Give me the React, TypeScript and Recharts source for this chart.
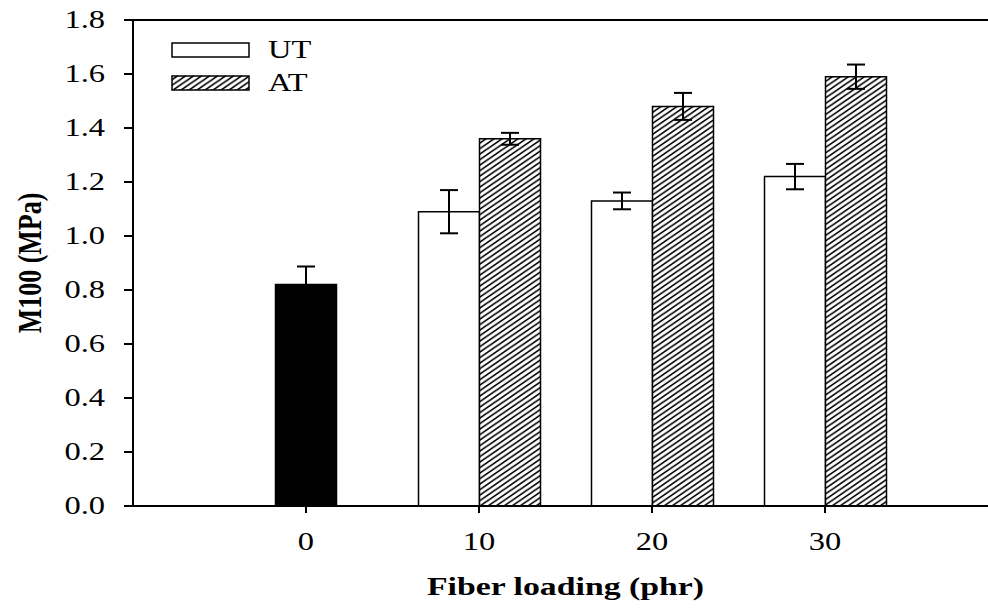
import { BarChart, Bar, XAxis, YAxis, ErrorBar, ReferenceLine } from 'recharts';

const loadings = ['0', '10', '20', '30'];
const controlValues = [0.82, null, null, null];
const controlErrors = [0.067, null, null, null];
const utValues = [null, 1.09, 1.13, 1.22];
const utErrors = [null, 0.08, 0.031, 0.047];
const atValues = [null, 1.36, 1.48, 1.59];
const atErrors = [null, 0.022, 0.05, 0.045];
const yTicks = [0, 0.2, 0.4, 0.6, 0.8, 1.0, 1.2, 1.4, 1.6, 1.8];

const data = loadings.map((loading, i) => ({
    loading,
    control: controlValues[i],
    controlErr: controlErrors[i],
    ut: utValues[i],
    utErr: utErrors[i],
    at: atValues[i],
    atErr: atErrors[i],
}));

const FONT = '"Liberation Serif", "Times New Roman", serif';
const STRETCH = 1.3; // the source figure is stretched sideways

const XTick = (props: any) => {
    const { x, y, payload } = props;
    return (
        <text
            transform={`translate(${x},${y}) scale(${STRETCH},1)`}
            textAnchor="middle"
            dy={17}
            fontFamily={FONT}
            fontSize={25}
            fill="#000"
        >
            {payload.value}
        </text>
    );
};

const YTick = (props: any) => {
    const { x, y, payload } = props;
    return (
        <text
            transform={`translate(${x},${y}) scale(${STRETCH},1)`}
            textAnchor="end"
            dy={8}
            fontFamily={FONT}
            fontSize={25}
            fill="#000"
        >
            {Number(payload.value).toFixed(1)}
        </text>
    );
};

const YLabel = (props: any) => {
    const vb = props.viewBox;
    return (
        <text
            transform={`translate(${vb.x + 41},${vb.y + vb.height / 2}) scale(${STRETCH},1) rotate(-90)`}
            textAnchor="middle"
            fontFamily={FONT}
            fontWeight="bold"
            fontSize={26}
            fill="#000"
        >
            M100 (MPa)
        </text>
    );
};

const XLabel = (props: any) => {
    const vb = props.viewBox;
    return (
        <text
            transform={`translate(${vb.x + vb.width / 2 + 5},${vb.y + 89}) scale(${STRETCH},1)`}
            textAnchor="middle"
            fontFamily={FONT}
            fontWeight="bold"
            fontSize={26}
            fill="#000"
        >
            Fiber loading (phr)
        </text>
    );
};

function Hatch({ id }: { id: string }) {
    return (
        <pattern id={id} patternUnits="userSpaceOnUse" width={8} height={5.5}>
            <rect width={8} height={5.5} fill="#fff" />
            <path
                d="M0,5.5 L8,0 M-2,1.375 L2,-1.375 M6,6.875 L10,4.125"
                stroke="#000"
                strokeWidth={1.6}
            />
        </pattern>
    );
}

function LegendOverlay() {
    const items = [
        { name: 'UT', fill: '#fff', top: 43 },
        { name: 'AT', fill: 'url(#hatchLegend)', top: 76 },
    ];
    return (
        <svg
            width={988}
            height={610}
            style={{ position: 'absolute', left: 0, top: 0, pointerEvents: 'none' }}
        >
            <defs>
                <Hatch id="hatchLegend" />
            </defs>
            {items.map((it) => (
                <g key={it.name}>
                    <rect x={172} y={it.top} width={77} height={14} fill={it.fill} stroke="#000" strokeWidth={1.5} />
                    <text
                        transform={`translate(268,${it.top + 15}) scale(${STRETCH},1)`}
                        fontFamily={FONT}
                        fontSize={25}
                        fill="#000"
                    >
                        {it.name}
                    </text>
                </g>
            ))}
        </svg>
    );
}

export default function App() {
    const axisStroke = { stroke: '#000', strokeWidth: 2 };
    const padding = { left: 86.5, right: 76.5 };
    return (
        <div style={{ position: 'relative', width: 988, height: 610, background: '#fff' }}>
            <style>{'body { margin: 0; }'}</style>
            <BarChart
                width={988}
                height={610}
                data={data}
                barGap={0}
                margin={{ top: 20, right: 0, left: 0, bottom: 0 }}
            >
                <defs>
                    <Hatch id="hatchBar" />
                </defs>
                <XAxis
                    dataKey="loading"
                    height={104}
                    padding={padding}
                    tickSize={7}
                    tickMargin={20}
                    axisLine={axisStroke}
                    tickLine={axisStroke}
                    tick={XTick}
                    label={<XLabel />}
                />
                <XAxis xAxisId="ctrl" dataKey="loading" padding={padding} hide />
                <YAxis
                    width={133}
                    domain={[0, 1.8]}
                    ticks={yTicks}
                    interval={0}
                    tickSize={9}
                    tickMargin={19}
                    axisLine={axisStroke}
                    tickLine={axisStroke}
                    tick={YTick}
                    label={<YLabel />}
                />
                <ReferenceLine y={1.8} stroke="#000" strokeWidth={2} />
                <Bar
                    xAxisId="ctrl"
                    dataKey="control"
                    name="Control"
                    fill="#000"
                    stroke="#000"
                    strokeWidth={1.5}
                    barSize={61}
                    isAnimationActive={false}
                >
                    <ErrorBar dataKey="controlErr" width={9} stroke="#000" strokeWidth={2} />
                </Bar>
                <Bar
                    dataKey="ut"
                    name="UT"
                    fill="#fff"
                    stroke="#000"
                    strokeWidth={1.5}
                    barSize={61}
                    isAnimationActive={false}
                >
                    <ErrorBar dataKey="utErr" width={9} stroke="#000" strokeWidth={2} />
                </Bar>
                <Bar
                    dataKey="at"
                    name="AT"
                    fill="url(#hatchBar)"
                    stroke="#000"
                    strokeWidth={1.5}
                    barSize={61}
                    isAnimationActive={false}
                >
                    <ErrorBar dataKey="atErr" width={9} stroke="#000" strokeWidth={2} />
                </Bar>
            </BarChart>
            <LegendOverlay />
        </div>
    );
}
